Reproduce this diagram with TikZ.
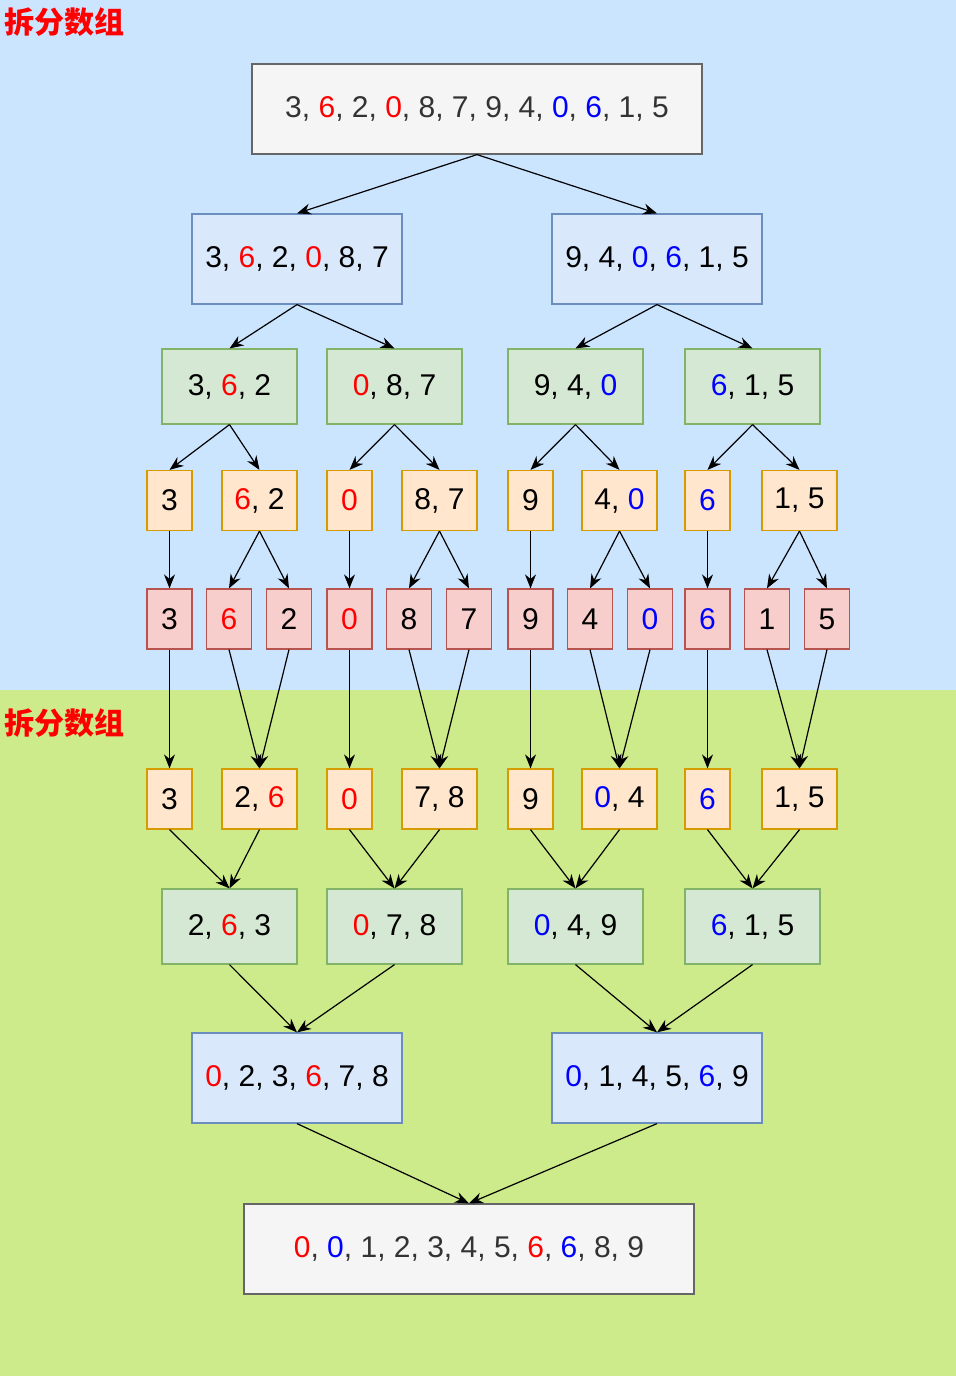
\documentclass[tikz,border=0pt]{standalone}
\usepackage{fontspec}
\setmainfont{Liberation Sans}
\newfontfamily\cjk{Noto Sans CJK SC}
\usetikzlibrary{arrows.meta}

\definecolor{topbg}{HTML}{CCE5FF}
\definecolor{botbg}{HTML}{CDEB8B}
\definecolor{grayfill}{HTML}{F5F5F5}
\definecolor{graybd}{HTML}{666666}
\definecolor{graytext}{HTML}{333333}
\definecolor{bluefill}{HTML}{DAE8FC}
\definecolor{bluebd}{HTML}{6C8EBF}
\definecolor{greenfill}{HTML}{D5E8D4}
\definecolor{greenbd}{HTML}{82B366}
\definecolor{orangefill}{HTML}{FFE6CC}
\definecolor{orangebd}{HTML}{D79B00}
\definecolor{redfill}{HTML}{F8CECC}
\definecolor{redbd}{HTML}{B85450}

\newcommand{\rnum}[1]{\textcolor{red}{#1}}
\newcommand{\bnum}[1]{\textcolor{blue}{#1}}

\tikzset{
  box/.style={draw,line width=0.6pt,inner sep=0pt},
  title/.style={anchor=west,inner sep=0pt,text=red,font=\cjk\bfseries\fontsize{15}{18}\selectfont}
}

\begin{document}
\begin{tikzpicture}[x=0.5pt,y=-0.5pt,font=\fontsize{15}{18}\selectfont]

      \fill[topbg] (0,0) rectangle (956,690);
      \fill[botbg] (0,690) rectangle (956,1376);
      \useasboundingbox (0,0) rectangle (956,1376);

      \node[title] (t1) at (4,22)  {拆分数组};
      \node[title] (t2) at (4,723) {拆分数组};

      \begin{scope}[every node/.style={box,draw=graybd,fill=grayfill,text=graytext,minimum width=225pt,minimum height=45pt}]
        \node (1)  at (477,109)  {3, \rnum{6}, 2, \rnum{0}, 8, 7, 9, 4, \bnum{0}, \bnum{6}, 1, 5};
        \node (42) at (469,1249) {\rnum{0}, \bnum{0}, 1, 2, 3, 4, 5, \rnum{6}, \bnum{6}, 8, 9};
      \end{scope}

      \begin{scope}[every node/.style={box,draw=bluebd,fill=bluefill,minimum width=105pt,minimum height=45pt}]
        \node (2)  at (297,259)  {3, \rnum{6}, 2, \rnum{0}, 8, 7};
        \node (3)  at (657,259)  {9, 4, \bnum{0}, \bnum{6}, 1, 5};
        \node (40) at (297,1078) {\rnum{0}, 2, 3, \rnum{6}, 7, 8};
        \node (41) at (657,1078) {\bnum{0}, 1, 4, 5, \bnum{6}, 9};
      \end{scope}

      \begin{scope}[every node/.style={box,draw=greenbd,fill=greenfill,minimum width=67.5pt,minimum height=37.5pt}]
        \node (4)  at (229.5,386.5) {3, \rnum{6}, 2};
        \node (5)  at (394.5,386.5) {\rnum{0}, 8, 7};
        \node (6)  at (575.5,386.5) {9, 4, \bnum{0}};
        \node (7)  at (752.5,386.5) {\bnum{6}, 1, 5};
        \node (36) at (229.5,926.5) {2, \rnum{6}, 3};
        \node (37) at (394.5,926.5) {\rnum{0}, 7, 8};
        \node (38) at (575.5,926.5) {\bnum{0}, 4, 9};
        \node (39) at (752.5,926.5) {\bnum{6}, 1, 5};
      \end{scope}

      \begin{scope}[every node/.style={box,draw=orangebd,fill=orangefill,minimum width=22.5pt,minimum height=30pt}]
        \node (8)  at (169.5,500.5) {3};
        \node (10) at (349.5,500.5) {\rnum{0}};
        \node (12) at (530.5,500.5) {9};
        \node (14) at (707.5,500.5) {\bnum{6}};
        \node (28) at (169.5,799)   {3};
        \node (30) at (349.5,799)   {\rnum{0}};
        \node (32) at (530.5,799)   {9};
        \node (34) at (707.5,799)   {\bnum{6}};
      \end{scope}

      \begin{scope}[every node/.style={box,draw=orangebd,fill=orangefill,minimum width=37.5pt,minimum height=30pt}]
        \node (9)  at (259.5,500.5) {\rnum{6}, 2};
        \node (11) at (439.5,500.5) {8, 7};
        \node (13) at (619.5,500.5) {4, \bnum{0}};
        \node (15) at (799.5,500.5) {1, 5};
        \node (29) at (259.5,799)   {2, \rnum{6}};
        \node (31) at (439.5,799)   {7, 8};
        \node (33) at (619.5,799)   {\bnum{0}, 4};
        \node (35) at (799.5,799)   {1, 5};
      \end{scope}

      \begin{scope}[every node/.style={box,draw=redbd,fill=redfill,minimum width=22.5pt,minimum height=30pt}]
        \node (16) at (169.5,619) {3};
        \node (17) at (229,619)   {\rnum{6}};
        \node (18) at (289,619)   {2};
        \node (19) at (349.5,619) {\rnum{0}};
        \node (20) at (409,619)   {8};
        \node (21) at (469,619)   {7};
        \node (22) at (530.5,619) {9};
        \node (23) at (590,619)   {4};
        \node (24) at (650,619)   {\bnum{0}};
        \node (25) at (707.5,619) {\bnum{6}};
        \node (26) at (767,619)   {1};
        \node (27) at (827,619)   {5};
      \end{scope}

      \begin{scope}[every edge/.style={draw,line width=0.6pt,-{Stealth[length=7pt,width=5.5pt]}}]
        % split
        \path (1.south)  edge (2.north)  (1.south)  edge (3.north);
        \path (2.south)  edge (4.north)  (2.south)  edge (5.north);
        \path (3.south)  edge (6.north)  (3.south)  edge (7.north);
        \path (4.south)  edge (8.north)  (4.south)  edge (9.north);
        \path (5.south)  edge (10.north) (5.south)  edge (11.north);
        \path (6.south)  edge (12.north) (6.south)  edge (13.north);
        \path (7.south)  edge (14.north) (7.south)  edge (15.north);
        \path (8.south)  edge (16.north);
        \path (9.south)  edge (17.north) (9.south)  edge (18.north);
        \path (10.south) edge (19.north);
        \path (11.south) edge (20.north) (11.south) edge (21.north);
        \path (12.south) edge (22.north);
        \path (13.south) edge (23.north) (13.south) edge (24.north);
        \path (14.south) edge (25.north);
        \path (15.south) edge (26.north) (15.south) edge (27.north);
        % merge
        \path (16.south) edge (28.north);
        \path (17.south) edge (29.north) (18.south) edge (29.north);
        \path (19.south) edge (30.north);
        \path (20.south) edge (31.north) (21.south) edge (31.north);
        \path (22.south) edge (32.north);
        \path (23.south) edge (33.north) (24.south) edge (33.north);
        \path (25.south) edge (34.north);
        \path (26.south) edge (35.north) (27.south) edge (35.north);
        \path (28.south) edge (36.north) (29.south) edge (36.north);
        \path (30.south) edge (37.north) (31.south) edge (37.north);
        \path (32.south) edge (38.north) (33.south) edge (38.north);
        \path (34.south) edge (39.north) (35.south) edge (39.north);
        \path (36.south) edge (40.north) (37.south) edge (40.north);
        \path (38.south) edge (41.north) (39.south) edge (41.north);
        \path (40.south) edge (42.north) (41.south) edge (42.north);
      \end{scope}

    \end{tikzpicture}
\end{document}
